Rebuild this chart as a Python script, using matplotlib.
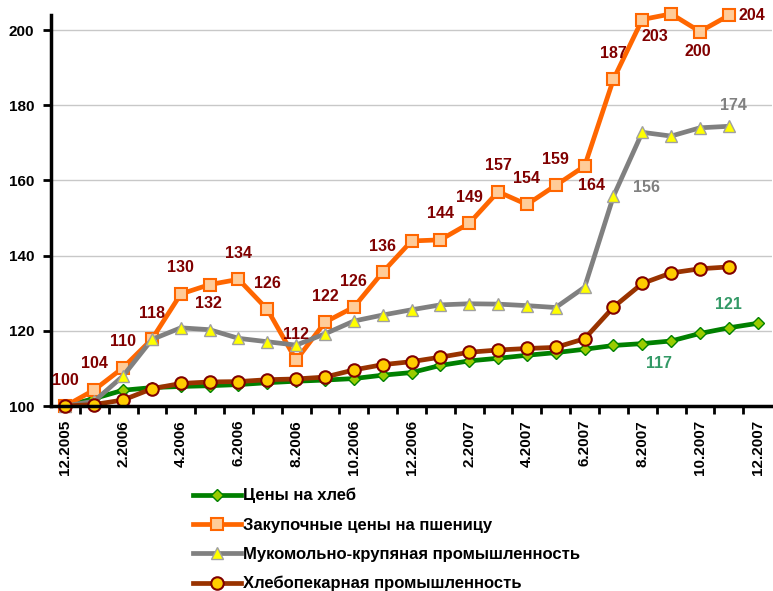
import matplotlib
matplotlib.use("Agg")
import matplotlib.pyplot as plt
from matplotlib.ticker import FixedLocator

plt.rcParams['font.family'] = ['Liberation Sans', 'DejaVu Sans']
plt.rcParams['font.weight'] = 'bold'

# monthly index, 12.2005 .. 12.2007
months = ["12.2005", "1.2006", "2.2006", "3.2006", "4.2006", "5.2006", "6.2006",
          "7.2006", "8.2006", "9.2006", "10.2006", "11.2006", "12.2006",
          "1.2007", "2.2007", "3.2007", "4.2007", "5.2007", "6.2007",
          "7.2007", "8.2007", "9.2007", "10.2007", "11.2007", "12.2007"]

bread = [100, 102, 104.2, 104.9, 105.2, 105.4, 105.7, 106.2, 106.6, 106.9, 107.3,
         108.2, 108.9, 110.8, 112.0, 112.7, 113.5, 114.2, 115.1, 116.1, 116.6,
         117.3, 119.3, 120.8, 122.0]
wheat = [100, 104.3, 110.2, 117.8, 129.8, 132.3, 133.7, 125.7, 112.2, 122.3, 126.3,
         135.6, 143.9, 144.2, 148.6, 157.0, 153.6, 158.7, 163.8, 186.9, 202.8,
         204.3, 199.6, 203.9]
milling = [100, 101.3, 108, 117.7, 120.8, 120.3, 118, 117.1, 116.2, 119.2, 122.6,
           124.2, 125.6, 126.9, 127.2, 127.1, 126.7, 126.2, 131.6, 155.8, 172.8,
           171.8, 174.0, 174.4]
bakery = [100, 100.4, 101.6, 104.6, 106.0, 106.4, 106.5, 107.0, 107.2, 107.7, 109.6,
          111.0, 111.8, 113.0, 114.3, 114.9, 115.3, 115.6, 117.9, 126.3, 132.6,
          135.4, 136.5, 137.0]

names = ["Цены на хлеб", "Закупочные цены на пшеницу",
         "Мукомольно-крупяная промышленность", "Хлебопекарная промышленность"]

# which points carry a value label
wheat_lab = [0, 1, 2, 3, 4, 5, 6, 7, 8, 9, 10, 11, 13, 14, 15, 16, 17, 18, 19, 20, 22, 23]
milling_lab = [19, 23]
bread_lab = [20, 23]

fig = plt.figure(figsize=(7.73, 5.91), dpi=100)
ax = fig.add_axes([0.066, 0.313, 0.9328, 0.6616])

x = list(range(len(months)))
lw = 3.4
ax.plot(x[:len(bread)], bread, color="#008000", lw=lw, marker="D", ms=6.5,
        mfc="#99CC00", mec="#008000", mew=1, label=names[0], clip_on=False, zorder=3)
ax.plot(x[:len(wheat)], wheat, color="#FF6600", lw=lw, marker="s", ms=9,
        mfc="#FFCC99", mec="#FF6600", mew=1.5, label=names[1], clip_on=False, zorder=4)
ax.plot(x[:len(milling)], milling, color="#808080", lw=lw, marker="^", ms=8,
        mfc="#FFFF00", mec="#A0A0A0", mew=1, label=names[2], clip_on=False, zorder=5)
ax.plot(x[:len(bakery)], bakery, color="#993300", lw=lw, marker="o", ms=9,
        mfc="#FFCC00", mec="#800000", mew=1.5, label=names[3], clip_on=False, zorder=6)

# label offsets in pixels
wheat_off = {5: (-1, -19), 18: (7, -19), 20: (13, -17), 22: (-2, -20)}
for i in wheat_lab:
    dx, dy = wheat_off.get(i, (0, 26))
    ha = "center"
    if i == 23:
        dx, dy, ha = 10, 0, "left"
    ax.annotate("%d" % round(wheat[i]), (i, wheat[i]), xytext=(dx, dy),
                textcoords="offset pixels", ha=ha, va="center",
                color="#800000", fontsize=11.5, fontweight="bold", zorder=10)

mill_off = {19: (20, 9, "left"), 23: (5, 21, "center")}
for i in milling_lab:
    dx, dy, ha = mill_off[i]
    ax.annotate("%d" % round(milling[i]), (i, milling[i]), xytext=(dx, dy),
                textcoords="offset pixels", ha=ha, va="center",
                color="#808080", fontsize=11.5, fontweight="bold", zorder=10)

bread_off = {20: (17, -20), 23: (0, 23)}
for i in bread_lab:
    dx, dy = bread_off[i]
    ax.annotate("%d" % round(bread[i]), (i, bread[i]), xytext=(dx, dy),
                textcoords="offset pixels", ha="center", va="center",
                color="#339966", fontsize=11.5, fontweight="bold", zorder=10)

ax.set_xlim(-0.5, len(months) - 0.5)
ax.set_ylim(100, 204)
ax.set_yticks(range(100, 201, 20))
ax.set_xticks(x[::2])
ax.set_xticklabels(months[::2], rotation=90, fontsize=11, fontweight="bold")
ax.xaxis.set_minor_locator(FixedLocator([i + 0.5 for i in x[:-1]]))
ax.tick_params(axis="x", which="major", length=0, pad=10)
ax.tick_params(axis="x", which="minor", length=6, width=2, direction="out")
ax.tick_params(axis="y", length=6, width=2, direction="out", labelsize=11, pad=6)
for lab in ax.get_yticklabels():
    lab.set_fontweight("bold")

ax.grid(axis="y", color="#C8C8C8", lw=1)
ax.set_axisbelow(True)
for s in ["top", "right"]:
    ax.spines[s].set_visible(False)
for s in ["left", "bottom"]:
    ax.spines[s].set_linewidth(2.5)
ax.spines["bottom"].set_zorder(7)

fig.legend(loc="upper left", bbox_to_anchor=(193 / 773, 1 - 488 / 591),
           frameon=False, handlelength=2.9, handletextpad=0.1,
           labelspacing=0.85, borderpad=0, borderaxespad=0,
           prop={"weight": "bold", "size": 12})

fig.savefig("out.png", dpi=100)
